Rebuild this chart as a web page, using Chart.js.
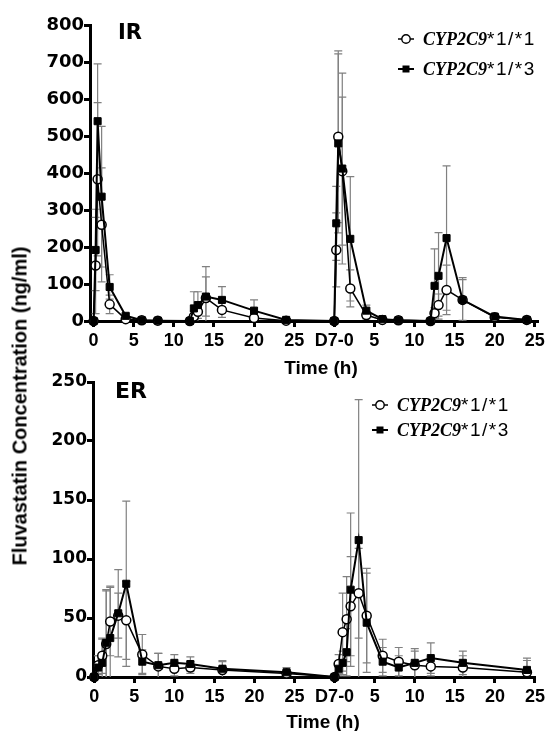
<!DOCTYPE html>
<html>
<head>
<meta charset="utf-8">
<script src="https://cdn.jsdelivr.net/npm/chart.js@4/dist/chart.umd.min.js"></script>
<style>
  html, body { margin: 0; padding: 0; background: #fff; }
  #wrap { position: relative; width: 548px; height: 731px; overflow: hidden; font-family: "Liberation Sans", Arial, sans-serif; color: #000; }
  canvas { position: absolute; left: 0; }
  .lbl { position: absolute; white-space: nowrap; }
  .panel { font-family: "DejaVu Sans", sans-serif; font-weight: bold; }
  .time { font-weight: bold; font-size: 19px; transform: translate(-50%, -50%); }
  .ytitle { font-weight: bold; font-size: 20px; transform: translate(-50%, -50%) rotate(-90deg); }
  .leg { position: absolute; height: 24px; display: flex; align-items: center; white-space: nowrap; }
  .leg svg { margin-right: 9px; }
  .gene { font-family: "Liberation Serif", serif; font-style: italic; font-weight: bold; font-size: 18px; }
  .allele { font-family: "Liberation Sans", sans-serif; font-size: 19px; letter-spacing: 1.5px; }
</style>
</head>
<body>
<div id="wrap">
  <canvas id="ir-chart" width="548" height="360" style="top:0"></canvas>
  <canvas id="er-chart" width="548" height="369" style="top:362px"></canvas>

  <div class="lbl panel" style="left:118px; top:20px; font-size:21px;">IR</div>
  <div class="lbl panel" style="left:115px; top:378px; font-size:22px;">ER</div>
  <div class="lbl time" style="left:321px; top:368px;">Time (h)</div>
  <div class="lbl time" style="left:323px; top:722px;">Time (h)</div>
  <div class="lbl ytitle" style="left:20px; top:406px;">Fluvastatin Concentration (ng/ml)</div>

  <div class="leg" style="left:398px; top:27px;">
    <svg width="16" height="12"><line x1="0" y1="6" x2="16" y2="6" stroke="#000" stroke-width="1.5"/><circle cx="8" cy="6" r="4.2" fill="#fff" stroke="#000" stroke-width="1.4"/></svg>
    <span class="gene">CYP2C9</span><span class="allele">*1/*1</span>
  </div>
  <div class="leg" style="left:398px; top:57px;">
    <svg width="16" height="12"><line x1="0" y1="6" x2="16" y2="6" stroke="#000" stroke-width="2"/><rect x="4.5" y="2.5" width="7" height="7" fill="#000"/></svg>
    <span class="gene">CYP2C9</span><span class="allele">*1/*3</span>
  </div>
  <div class="leg" style="left:372px; top:393px;">
    <svg width="16" height="12"><line x1="0" y1="6" x2="16" y2="6" stroke="#000" stroke-width="1.5"/><circle cx="8" cy="6" r="4.2" fill="#fff" stroke="#000" stroke-width="1.4"/></svg>
    <span class="gene">CYP2C9</span><span class="allele">*1/*1</span>
  </div>
  <div class="leg" style="left:372px; top:418px;">
    <svg width="16" height="12"><line x1="0" y1="6" x2="16" y2="6" stroke="#000" stroke-width="2"/><rect x="4.5" y="2.5" width="7" height="7" fill="#000"/></svg>
    <span class="gene">CYP2C9</span><span class="allele">*1/*3</span>
  </div>
</div>

<script>
// day 7 profile is plotted after day 1, shifted by this many hours
const D7_OFFSET = 30;

// sampling times (h)
const irTimes = [0, 0.25, 0.5, 1, 2, 4, 6, 8, 12, 12.5, 13, 14, 16, 20, 24];
const erTimes = [0, 0.5, 1, 1.5, 2, 3, 4, 6, 8, 10, 12, 16, 24];

// IR, mean and SD (ng/ml)
const irD1Star1 = [0, 150, 383, 260, 45, 5, 2, 1, 0, 12, 25, 62, 30, 8, 1];
const irD1Star1Sd = [0, 130, 207, 154, 25, 4, 2, 1, 0, 15, 25, 85, 20, 8, 1];
const irD1Star3 = [0, 192, 540, 336, 92, 14, 2, 1, 0, 34, 43, 66, 57, 28, 3];
const irD1Star3Sd = [0, 110, 155, 190, 33, 5, 2, 1, 0, 45, 36, 53, 36, 29, 2];
const irD7Star1 = [0, 192, 498, 405, 88, 16, 3, 2, 0, 21, 43, 84, 57, 10, 3];
const irD7Star1Sd = [0, 100, 232, 200, 50, 10, 2, 1, 0, 15, 30, 67, 55, 5, 2];
const irD7Star3 = [0, 264, 480, 412, 222, 28, 5, 2, 0, 95, 122, 224, 57, 12, 3];
const irD7Star3Sd = [0, 100, 242, 258, 168, 15, 3, 1, 0, 100, 117, 195, 60, 5, 2];

// ER, mean and SD (ng/ml)
const erD1Star1 = [0, 10, 18, 28, 47, 52, 48, 19, 9, 7, 8, 6, 3];
const erD1Star1Sd = [0, 8, 15, 45, 29, 19, 33, 17, 11, 6, 5, 7, 3];
const erD1Star3 = [0, 8, 12, 29, 33, 54, 79, 13, 10, 12, 11, 7, 4];
const erD1Star3Sd = [0, 10, 20, 45, 44, 37, 70, 10, 10, 7, 6, 7, 4];
const erD7Star1 = [0, 11, 38, 49, 60, 71, 52, 18, 13, 10, 9, 8, 4];
const erD7Star1Sd = [0, 8, 33, 36, 42, 38, 40, 14, 12, 12, 8, 10, 10];
const erD7Star3 = [0, 7, 12, 21, 74, 116, 46, 13, 8, 12, 16, 12, 6];
const erD7Star3Sd = [0, 6, 10, 20, 65, 119, 42, 12, 10, 12, 13, 10, 10];

function toPoints(times, day1, day7) {
    return times.map((t, i) => ({x: t, y: day1[i]}))
        .concat(times.map((t, i) => ({x: t + D7_OFFSET, y: day7[i]})));
}

// grey SD whiskers with caps, drawn under the lines
const errorBars = {
    id: 'errorBars',
    beforeDatasetsDraw(chart) {
        const ctx = chart.ctx;
        const yScale = chart.scales.y;
        const area = chart.chartArea;
        ctx.save();
        ctx.beginPath();
        ctx.rect(area.left, area.top - 2, area.right - area.left, area.bottom - area.top + 2);
        ctx.clip();
        ctx.strokeStyle = '#808080';
        ctx.lineWidth = 1.2;
        chart.data.datasets.forEach((ds, i) => {
            const meta = chart.getDatasetMeta(i);
            ds.data.forEach((p, j) => {
                const sd = ds.sd[j];
                if (!sd) return;
                const x = meta.data[j].x;
                const top = yScale.getPixelForValue(p.y + sd);
                const bottom = yScale.getPixelForValue(Math.max(p.y - sd, 0));
                ctx.beginPath();
                ctx.moveTo(x, top); ctx.lineTo(x, bottom);
                ctx.moveTo(x - 4, top); ctx.lineTo(x + 4, top);
                if (p.y - sd > 0) {
                    ctx.moveTo(x - 4, bottom); ctx.lineTo(x + 4, bottom);
                }
                ctx.stroke();
            });
        });
        ctx.restore();
    }
};

function makeChart(id, opts) {
    const ctx = document.getElementById(id).getContext('2d');
    return new Chart(ctx, {
        type: 'line',
        data: {
            datasets: [
                {
                    label: 'CYP2C9*1/*1',
                    data: opts.star1,
                    sd: opts.star1Sd,
                    order: 1,
                    borderColor: '#000',
                    borderWidth: 1.5,
                    pointStyle: 'circle',
                    pointRadius: 4.5,
                    pointBackgroundColor: '#fff',
                    pointBorderColor: '#000',
                    pointBorderWidth: 1.5,
                    clip: 8
                },
                {
                    label: 'CYP2C9*1/*3',
                    data: opts.star3,
                    sd: opts.star3Sd,
                    order: 0,
                    borderColor: '#000',
                    borderWidth: 2,
                    pointStyle: 'rect',
                    pointRadius: 5,
                    pointBackgroundColor: '#000',
                    pointBorderColor: '#000',
                    pointBorderWidth: 1,
                    clip: 8
                }
            ]
        },
        options: {
            responsive: false,
            animation: false,
            devicePixelRatio: 1,
            layout: {padding: {top: opts.padTop, right: opts.padRight, left: 0, bottom: 0}},
            plugins: {legend: {display: false}, tooltip: {enabled: false}},
            scales: {
                x: {
                    type: 'linear',
                    min: opts.xMin,
                    max: opts.xMax,
                    afterFit: s => { s.height = opts.xHeight; },
                    border: {color: '#000', width: 3},
                    grid: {drawOnChartArea: false, drawTicks: true, tickLength: 6, tickWidth: 3, tickColor: '#000'},
                    ticks: {
                        stepSize: 5,
                        includeBounds: false,
                        maxRotation: 0,
                        autoSkip: false,
                        padding: 3,
                        color: '#000',
                        font: {family: 'Liberation Sans', size: 18, weight: 'bold'},
                        callback: v => v < D7_OFFSET ? String(v) : (v === D7_OFFSET ? 'D7-0' : String(v - D7_OFFSET))
                    }
                },
                y: {
                    min: 0,
                    max: opts.yMax,
                    afterFit: s => { s.width = opts.yWidth; },
                    border: {color: '#000', width: 3},
                    grid: {drawOnChartArea: false, drawTicks: true, tickLength: 6, tickWidth: 3, tickColor: '#000'},
                    ticks: {
                        stepSize: opts.yStep,
                        padding: 0,
                        color: '#000',
                        font: {family: 'DejaVu Sans', size: opts.yFont, weight: 'bold'}
                    }
                }
            }
        },
        plugins: [errorBars]
    });
}

makeChart('ir-chart', {
    star1: toPoints(irTimes, irD1Star1, irD7Star1),
    star1Sd: irD1Star1Sd.concat(irD7Star1Sd),
    star3: toPoints(irTimes, irD1Star3, irD7Star3),
    star3Sd: irD1Star3Sd.concat(irD7Star3Sd),
    xMin: -0.45, xMax: 55.4,
    yMax: 800, yStep: 100, yFont: 18,
    yWidth: 90, xHeight: 39, padTop: 25, padRight: 10
});

makeChart('er-chart', {
    star1: toPoints(erTimes, erD1Star1, erD7Star1),
    star1Sd: erD1Star1Sd.concat(erD7Star1Sd),
    star3: toPoints(erTimes, erD1Star3, erD7Star3),
    star3Sd: erD1Star3Sd.concat(erD7Star3Sd),
    xMin: -0.15, xMax: 55.1,
    yMax: 250, yStep: 50, yFont: 17,
    yWidth: 93, xHeight: 54, padTop: 20, padRight: 9
});
</script>
</body>
</html>
